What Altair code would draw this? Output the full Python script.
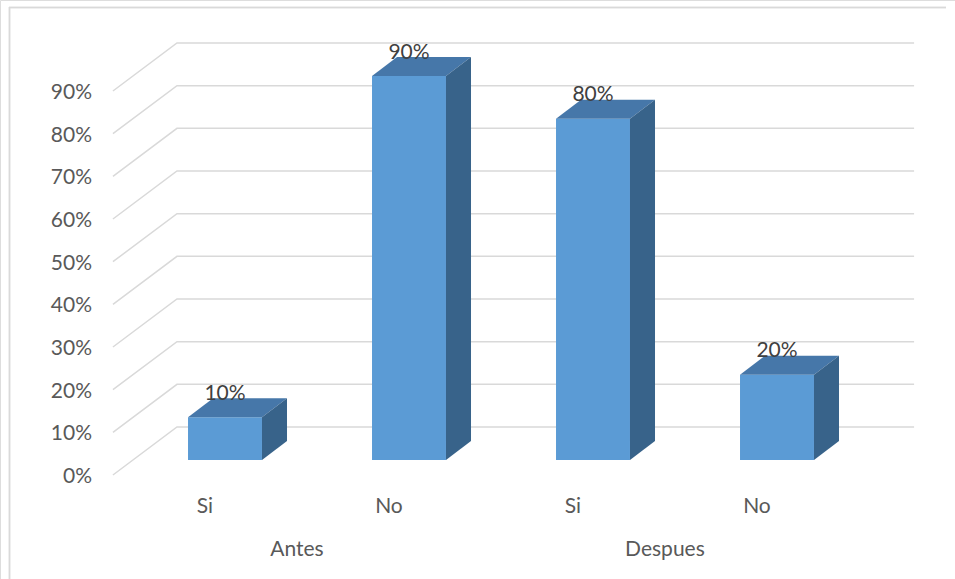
import altair as alt
import pandas as pd

# ---- data -------------------------------------------------------------
groups = ["Antes", "Antes", "Despues", "Despues"]
answers = ["Si", "No", "Si", "No"]
values = [10, 90, 80, 20]
y_ticks = [0, 10, 20, 30, 40, 50, 60, 70, 80, 90]
group_names = ["Antes", "Despues"]

# ---- 3-D projection constants (x in category slots, y in percent) -----
BAR_HALF = 0.201        # half width of a bar front face
BAR_DX, BAR_DY = 0.136, 4.45      # bar depth offset
FLOOR_FRONT = -3.52     # floor front edge, relative to the bar front plane
FLOOR_BACK = 7.73       # back wall, relative to the bar front plane
WALL_LEFT_FRONT, WALL_LEFT_BACK, WALL_RIGHT = -0.609, -0.261, 3.745
LABEL_SHIFT = -0.109    # category label sits on the floor front edge

FRONT = "#5B9BD5"
TOP = "#4677A9"
SIDE = "#38638A"
GRID = "#D9D9D9"
TEXT = "#595959"
FONT = "Lato"

W, H = 955, 579
x_scale = alt.Scale(domain=[-225 / 184, 730 / 184], nice=False, zero=False)
y_scale = alt.Scale(domain=[-119 / 4.2667, 460 / 4.2667], nice=False, zero=False)

bars = pd.DataFrame({"group": groups, "answer": answers, "value": values})
bars["slot"] = range(len(bars))
bars["x0"] = bars["slot"] - BAR_HALF
bars["x1"] = bars["slot"] + BAR_HALF
bars["label"] = [f"{v}%" for v in values]
bars["label_y"] = bars["value"] + BAR_DY + 0.1
bars["cat_x"] = bars["slot"] + LABEL_SHIFT
bars["cat_y"] = -11.0

# top and side faces as areas (parallelograms)
top_rows, side_rows = [], []
for _, r in bars.iterrows():
    h = r["value"]
    for x, lo, hi in [
        (r["x0"], h, h),
        (r["x0"] + BAR_DX, h, h + BAR_DY),
        (r["x1"], h, h + BAR_DY),
        (r["x1"] + BAR_DX, h + BAR_DY, h + BAR_DY),
    ]:
        top_rows.append({"slot": r["slot"], "x": x, "lo": lo, "hi": hi})
    for x, lo, hi in [
        (r["x1"], 0, h),
        (r["x1"] + BAR_DX, BAR_DY, h + BAR_DY),
    ]:
        side_rows.append({"slot": r["slot"], "x": x, "lo": lo, "hi": hi})
top_df = pd.DataFrame(top_rows)
side_df = pd.DataFrame(side_rows)

# gridlines: diagonal on the side wall, then along the back wall
grid_rows = []
for t in y_ticks:
    grid_rows += [
        {"tick": t, "i": 0, "x": WALL_LEFT_FRONT, "y": t + FLOOR_FRONT},
        {"tick": t, "i": 1, "x": WALL_LEFT_BACK, "y": t + FLOOR_BACK},
        {"tick": t, "i": 2, "x": WALL_RIGHT, "y": t + FLOOR_BACK},
    ]
grid_df = pd.DataFrame(grid_rows)

tick_df = pd.DataFrame({"tick": y_ticks})
tick_df["label"] = [f"{t}%" for t in y_ticks]
tick_df["x"] = -0.7228
tick_df["y"] = tick_df["tick"] + FLOOR_FRONT - 0.5

grp_df = pd.DataFrame({"group": group_names})
grp_df["x"] = [
    bars.loc[bars["group"] == g, "slot"].mean() + LABEL_SHIFT for g in group_names
]
grp_df["y"] = -21.1

X = lambda f: alt.X(f, type="quantitative", scale=x_scale, axis=None)
Y = lambda f: alt.Y(f, type="quantitative", scale=y_scale, axis=None)

grid = alt.Chart(grid_df).mark_line(color=GRID, strokeWidth=1.5).encode(
    x=X("x"), y=Y("y"), detail="tick:N", order="i:Q"
)

front = alt.Chart(bars).mark_rect(color=FRONT).encode(
    x=X("x0"), x2="x1", y=Y("value"), y2=alt.datum(0)
)

top = alt.Chart(top_df).mark_area(color=TOP, opacity=1).encode(
    x=X("x"), y=Y("hi"), y2="lo", detail="slot:N"
)

side = alt.Chart(side_df).mark_area(color=SIDE, opacity=1).encode(
    x=X("x"), y=Y("hi"), y2="lo", detail="slot:N"
)

value_labels = alt.Chart(bars).mark_text(
    font=FONT, fontSize=21, color="#404040", baseline="alphabetic", dy=2
).encode(x=X("slot"), y=Y("label_y"), text="label:N")

tick_labels = alt.Chart(tick_df).mark_text(
    font=FONT, fontSize=21, color=TEXT, align="right", baseline="middle"
).encode(x=X("x"), y=Y("y"), text="label:N")

cat_labels = alt.Chart(bars).mark_text(
    font=FONT, fontSize=21, color=TEXT, baseline="middle"
).encode(x=X("cat_x"), y=Y("cat_y"), text="answer:N")

grp_labels = alt.Chart(grp_df).mark_text(
    font=FONT, fontSize=21, color=TEXT, baseline="middle"
).encode(x=X("x"), y=Y("y"), text="group:N")

border_top = alt.Chart(grp_df).mark_rule(color=GRID, strokeWidth=1.5).encode(
    x=alt.value(9), x2=alt.value(946), y=alt.value(7.5)
)
border_left = alt.Chart(grp_df).mark_rule(color=GRID, strokeWidth=1.5).encode(
    x=alt.value(9.5), y=alt.value(7), y2=alt.value(579)
)

chart = alt.layer(
    border_top, border_left, grid, front, top, side,
    value_labels, tick_labels, cat_labels, grp_labels,
).properties(
    width=W, height=H, padding=0, autosize=alt.AutoSizeParams(type="none")
).configure_view(stroke=None).configure(background="white")

chart.save("out.html", embed_options={"renderer": "svg", "actions": False})
